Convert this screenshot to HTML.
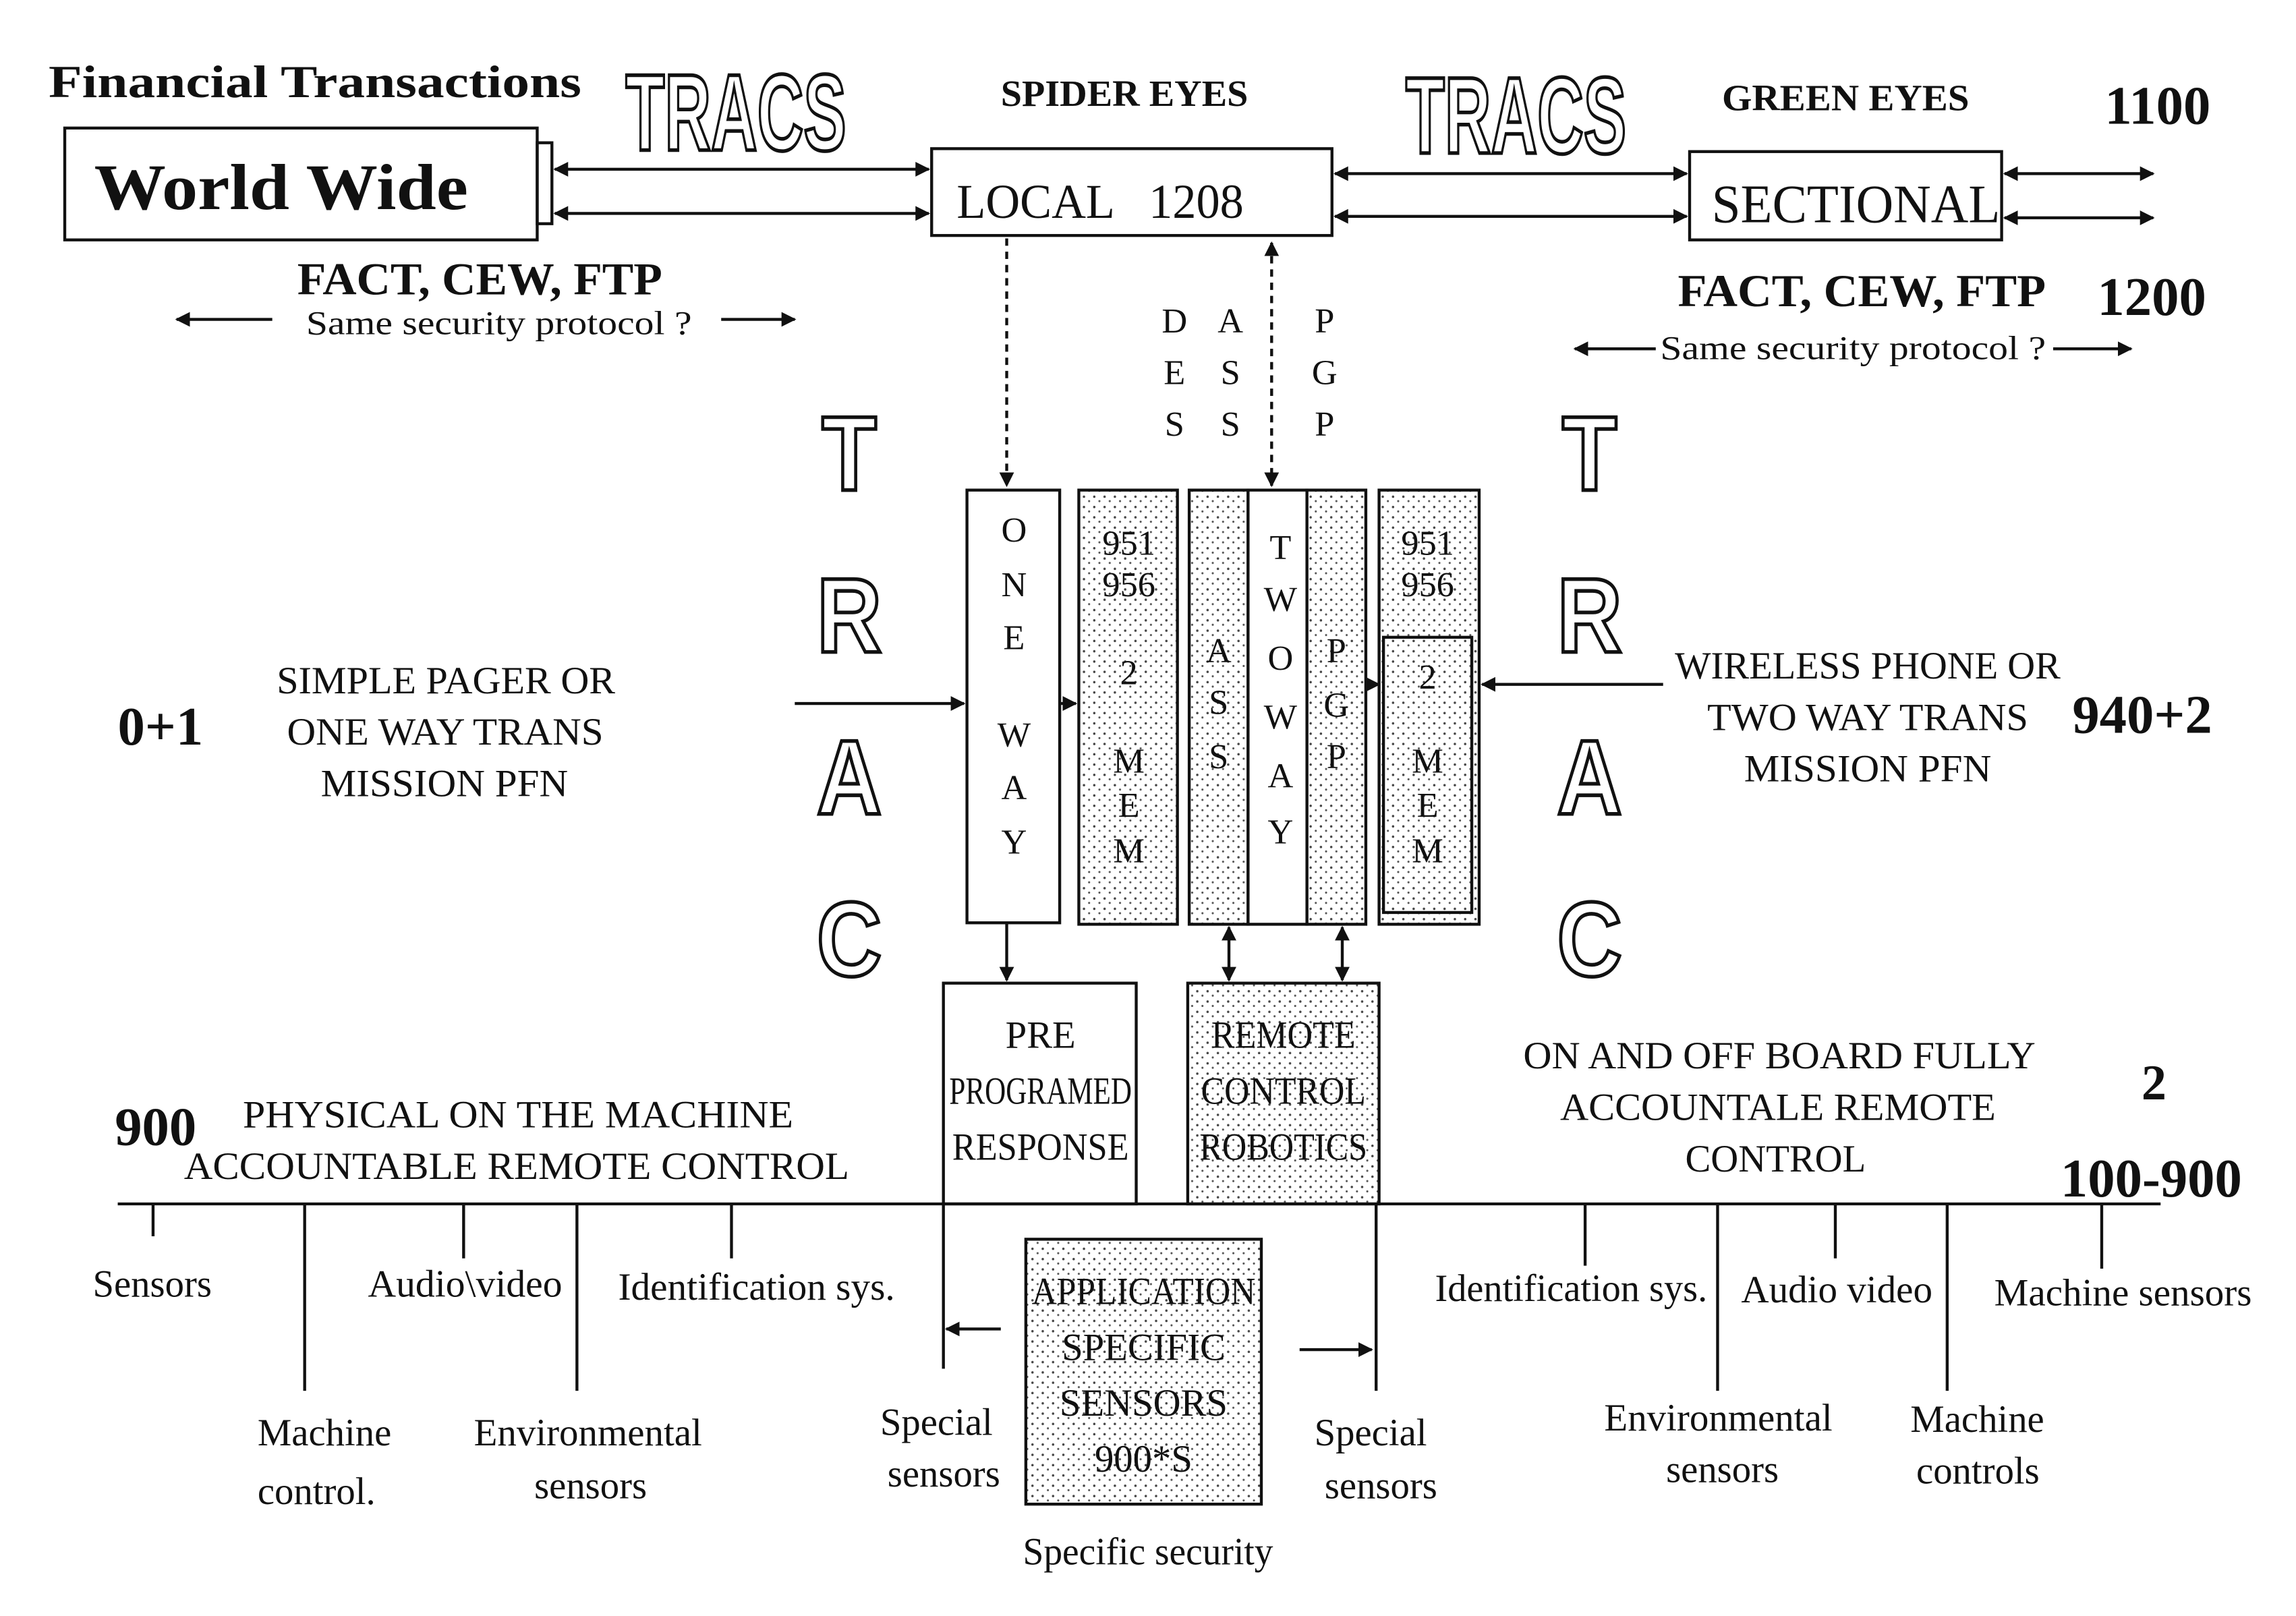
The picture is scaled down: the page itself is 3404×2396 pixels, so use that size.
<!DOCTYPE html>
<html><head><meta charset="utf-8"><style>
html,body{margin:0;padding:0;background:#fff}
svg{display:block}
text{font-family:"Liberation Serif",serif;fill:#111}
.b{font-weight:bold}
.o{fill:#fff;stroke:#111;stroke-width:2.5;font-family:"Liberation Sans",sans-serif;font-weight:bold}
</style></head><body>
<svg width="3404" height="2396" viewBox="0 0 1560 1098" preserveAspectRatio="none" xmlns="http://www.w3.org/2000/svg">
<defs>
<pattern id="dots" width="7" height="7" patternUnits="userSpaceOnUse">
<rect width="7" height="7" fill="#fff"/>
<circle cx="1.5" cy="1.5" r="0.8" fill="#444"/><circle cx="5" cy="4.5" r="0.7" fill="#555"/>
</pattern>
<marker id="ah" markerWidth="10" markerHeight="10" refX="9" refY="5" orient="auto-start-reverse" markerUnits="userSpaceOnUse"><path d="M0,0 L10,5 L0,10 z" fill="#111"/></marker>
</defs>
<g stroke="#111" stroke-width="2" fill="none">
<rect x="44" y="87" width="321" height="76" fill="#fff"/>
<rect x="365" y="97" width="10" height="55"/>
<line x1="377" y1="115" x2="631" y2="115" marker-start="url(#ah)" marker-end="url(#ah)"/>
<line x1="377" y1="145" x2="631" y2="145" marker-start="url(#ah)" marker-end="url(#ah)"/>
<rect x="633" y="101" width="272" height="59"/>
<line x1="907" y1="118" x2="1146" y2="118" marker-start="url(#ah)" marker-end="url(#ah)"/>
<line x1="907" y1="147" x2="1146" y2="147" marker-start="url(#ah)" marker-end="url(#ah)"/>
<rect x="1148" y="103" width="212" height="60"/>
<line x1="1362" y1="118" x2="1463" y2="118" marker-start="url(#ah)" marker-end="url(#ah)"/>
<line x1="1362" y1="148" x2="1463" y2="148" marker-start="url(#ah)" marker-end="url(#ah)"/>
<line x1="185" y1="217" x2="120" y2="217" marker-end="url(#ah)"/>
<line x1="490" y1="217" x2="540" y2="217" marker-end="url(#ah)"/>
<line x1="1125" y1="237" x2="1070" y2="237" marker-end="url(#ah)"/>
<line x1="1395" y1="237" x2="1448" y2="237" marker-end="url(#ah)"/>
<line x1="684" y1="162" x2="684" y2="330" stroke-dasharray="5,4" marker-end="url(#ah)"/>
<line x1="864" y1="165" x2="864" y2="330" stroke-dasharray="5,4" marker-start="url(#ah)" marker-end="url(#ah)"/>
<rect x="657" y="333" width="63" height="294" fill="#fff"/>
<rect x="733" y="333" width="67" height="295" fill="url(#dots)"/>
<rect x="808" y="333" width="40" height="295" fill="url(#dots)"/>
<rect x="848" y="333" width="40" height="295" fill="#fff"/>
<rect x="888" y="333" width="40" height="295" fill="url(#dots)"/>
<rect x="937" y="333" width="68" height="295" fill="url(#dots)"/>
<rect x="940" y="433" width="60" height="187"/>
<line x1="540" y1="478" x2="655" y2="478" marker-end="url(#ah)"/>
<line x1="720" y1="478" x2="731" y2="478" marker-end="url(#ah)"/>
<line x1="1130" y1="465" x2="1007" y2="465" marker-end="url(#ah)"/>
<line x1="930" y1="465" x2="937" y2="465" marker-end="url(#ah)"/>
<line x1="684" y1="627" x2="684" y2="666" marker-end="url(#ah)"/>
<line x1="835" y1="630" x2="835" y2="666" marker-start="url(#ah)" marker-end="url(#ah)"/>
<line x1="912" y1="630" x2="912" y2="666" marker-start="url(#ah)" marker-end="url(#ah)"/>
<rect x="641" y="668" width="131" height="150" fill="#fff"/>
<rect x="807" y="668" width="130" height="150" fill="url(#dots)"/>
<line x1="80" y1="818" x2="1468" y2="818"/>
<line x1="104" y1="818" x2="104" y2="840"/>
<line x1="207" y1="818" x2="207" y2="945"/>
<line x1="315" y1="818" x2="315" y2="855"/>
<line x1="392" y1="818" x2="392" y2="945"/>
<line x1="497" y1="818" x2="497" y2="855"/>
<line x1="641" y1="818" x2="641" y2="930"/>
<line x1="935" y1="818" x2="935" y2="945"/>
<line x1="1077" y1="818" x2="1077" y2="860"/>
<line x1="1167" y1="818" x2="1167" y2="945"/>
<line x1="1247" y1="818" x2="1247" y2="855"/>
<line x1="1323" y1="818" x2="1323" y2="945"/>
<line x1="1428" y1="818" x2="1428" y2="862"/>
<line x1="680" y1="903" x2="643" y2="903" marker-end="url(#ah)"/>
<line x1="883" y1="917" x2="932" y2="917" marker-end="url(#ah)"/>
<rect x="697" y="842" width="160" height="180" fill="url(#dots)"/>
</g>
<text x="33" y="66" class="b" font-size="31" textLength="362" lengthAdjust="spacingAndGlyphs">Financial Transactions</text>
<text x="425" y="102" class="o" font-size="74" textLength="150" lengthAdjust="spacingAndGlyphs">TRACS</text>
<text x="955" y="104" class="o" font-size="74" textLength="150" lengthAdjust="spacingAndGlyphs">TRACS</text>
<text x="680" y="72" class="b" font-size="25" textLength="168" lengthAdjust="spacingAndGlyphs">SPIDER EYES</text>
<text x="1170" y="75" class="b" font-size="25" textLength="168" lengthAdjust="spacingAndGlyphs">GREEN EYES</text>
<text x="1430" y="84" class="b" font-size="37">1100</text>
<text x="64" y="142" class="b" font-size="44" textLength="254" lengthAdjust="spacingAndGlyphs">World Wide</text>
<text x="650" y="148" font-size="33" textLength="195" lengthAdjust="spacingAndGlyphs" xml:space="preserve">LOCAL   1208</text>
<text x="1163" y="151" font-size="37" textLength="196" lengthAdjust="spacingAndGlyphs">SECTIONAL</text>
<text x="202" y="200" class="b" font-size="31" textLength="248" lengthAdjust="spacingAndGlyphs">FACT, CEW, FTP</text>
<text x="208" y="227" font-size="23" textLength="262" lengthAdjust="spacingAndGlyphs">Same security protocol ?</text>
<text x="1140" y="208" class="b" font-size="31" textLength="250" lengthAdjust="spacingAndGlyphs">FACT, CEW,  FTP</text>
<text x="1425" y="214" class="b" font-size="37">1200</text>
<text x="1128" y="244" font-size="23" textLength="262" lengthAdjust="spacingAndGlyphs">Same security protocol ?</text>
<g font-size="24" text-anchor="middle">
<text x="798" y="226">D</text><text x="798" y="261">E</text><text x="798" y="296">S</text>
<text x="836" y="226">A</text><text x="836" y="261">S</text><text x="836" y="296">S</text>
<text x="900" y="226">P</text><text x="900" y="261">G</text><text x="900" y="296">P</text>
</g>
<g font-size="72" text-anchor="middle">
<text x="577" y="333" class="o" transform="translate(577,0) scale(0.85,1) translate(-577,0)">T</text><text x="577" y="443" class="o" transform="translate(577,0) scale(0.85,1) translate(-577,0)">R</text><text x="577" y="553" class="o" transform="translate(577,0) scale(0.85,1) translate(-577,0)">A</text><text x="577" y="663" class="o" transform="translate(577,0) scale(0.85,1) translate(-577,0)">C</text>
<text x="1080" y="333" class="o" transform="translate(1080,0) scale(0.85,1) translate(-1080,0)">T</text><text x="1080" y="443" class="o" transform="translate(1080,0) scale(0.85,1) translate(-1080,0)">R</text><text x="1080" y="553" class="o" transform="translate(1080,0) scale(0.85,1) translate(-1080,0)">A</text><text x="1080" y="663" class="o" transform="translate(1080,0) scale(0.85,1) translate(-1080,0)">C</text>
</g>
<g font-size="24" text-anchor="middle">
<text x="689" y="368">O</text><text x="689" y="405">N</text><text x="689" y="441">E</text>
<text x="689" y="507">W</text><text x="689" y="543">A</text><text x="689" y="580">Y</text>
<text x="767" y="377">951</text><text x="767" y="405">956</text><text x="767" y="465">2</text>
<text x="767" y="525">M</text><text x="767" y="555">E</text><text x="767" y="586">M</text>
<text x="828" y="450">A</text><text x="828" y="485">S</text><text x="828" y="522">S</text>
<text x="870" y="380">T</text><text x="870" y="415">W</text><text x="870" y="455">O</text><text x="870" y="495">W</text><text x="870" y="535">A</text><text x="870" y="573">Y</text>
<text x="908" y="450">P</text><text x="908" y="487">G</text><text x="908" y="522">P</text>
<text x="970" y="377">951</text><text x="970" y="405">956</text><text x="970" y="468">2</text>
<text x="970" y="525">M</text><text x="970" y="555">E</text><text x="970" y="586">M</text>
</g>
<g font-size="26">
<text x="188" y="471" textLength="230" lengthAdjust="spacingAndGlyphs">SIMPLE PAGER OR</text>
<text x="195" y="506" textLength="215" lengthAdjust="spacingAndGlyphs">ONE WAY TRANS</text>
<text x="218" y="541" textLength="168" lengthAdjust="spacingAndGlyphs">MISSION PFN</text>
<text x="1138" y="461" textLength="262" lengthAdjust="spacingAndGlyphs">WIRELESS PHONE OR</text>
<text x="1160" y="496" textLength="218" lengthAdjust="spacingAndGlyphs">TWO WAY TRANS</text>
<text x="1185" y="531" textLength="168" lengthAdjust="spacingAndGlyphs">MISSION  PFN</text>
</g>
<text x="80" y="506" class="b" font-size="37">0+1</text>
<text x="1408" y="498" class="b" font-size="37">940+2</text>
<g font-size="26" text-anchor="middle">
<text x="707" y="712">PRE</text>
<text x="707" y="750" textLength="124" lengthAdjust="spacingAndGlyphs">PROGRAMED</text>
<text x="707" y="788" textLength="120" lengthAdjust="spacingAndGlyphs">RESPONSE</text>
<text x="872" y="712" textLength="98" lengthAdjust="spacingAndGlyphs">REMOTE</text>
<text x="872" y="750" textLength="112" lengthAdjust="spacingAndGlyphs">CONTROL</text>
<text x="872" y="788" textLength="114" lengthAdjust="spacingAndGlyphs">ROBOTICS</text>
<text x="777" y="886" textLength="152" lengthAdjust="spacingAndGlyphs">APPLICATION</text>
<text x="777" y="924">SPECIFIC</text>
<text x="777" y="962">SENSORS</text>
<text x="777" y="1000">900*S</text>
</g>
<g font-size="26">
<text x="1035" y="726" textLength="348" lengthAdjust="spacingAndGlyphs">ON AND OFF  BOARD FULLY</text>
<text x="1060" y="761" textLength="296" lengthAdjust="spacingAndGlyphs">ACCOUNTALE  REMOTE</text>
<text x="1145" y="796">CONTROL</text>
<text x="165" y="766" textLength="374" lengthAdjust="spacingAndGlyphs">PHYSICAL  ON THE  MACHINE</text>
<text x="125" y="801" textLength="452" lengthAdjust="spacingAndGlyphs">ACCOUNTABLE  REMOTE  CONTROL</text>
</g>
<text x="1455" y="747" class="b" font-size="34">2</text>
<text x="78" y="778" class="b" font-size="37">900</text>
<text x="1400" y="813" class="b" font-size="37">100-900</text>
<g font-size="26">
<text x="63" y="881">Sensors</text>
<text x="250" y="881" textLength="132" lengthAdjust="spacingAndGlyphs">Audio\video</text>
<text x="420" y="883" textLength="188" lengthAdjust="spacingAndGlyphs">Identification sys.</text>
<text x="175" y="982">Machine</text>
<text x="175" y="1022">control.</text>
<text x="322" y="982" textLength="155" lengthAdjust="spacingAndGlyphs">Environmental</text>
<text x="363" y="1018">sensors</text>
<text x="598" y="975">Special</text>
<text x="603" y="1010">sensors</text>
<text x="893" y="982">Special</text>
<text x="900" y="1018">sensors</text>
<text x="695" y="1063" textLength="170" lengthAdjust="spacingAndGlyphs">Specific security</text>
<text x="975" y="884" textLength="185" lengthAdjust="spacingAndGlyphs">Identification sys.</text>
<text x="1183" y="885" textLength="130" lengthAdjust="spacingAndGlyphs">Audio video</text>
<text x="1355" y="887" textLength="175" lengthAdjust="spacingAndGlyphs">Machine sensors</text>
<text x="1090" y="972" textLength="155" lengthAdjust="spacingAndGlyphs">Environmental</text>
<text x="1132" y="1007">sensors</text>
<text x="1298" y="973">Machine</text>
<text x="1302" y="1008">controls</text>
</g>
</svg>
</body></html>
